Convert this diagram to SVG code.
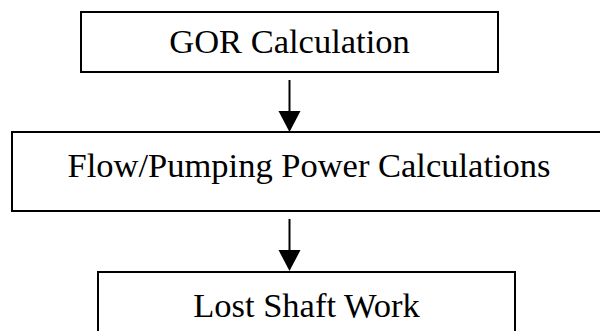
<svg xmlns="http://www.w3.org/2000/svg" width="600" height="331" viewBox="0 0 600 331">
  <style>
    .box { fill: #ffffff; stroke: #000000; stroke-width: 2; }
    .label { font-family: "Liberation Serif", "Times New Roman", serif; font-size: 34.5px; fill: #000000; text-anchor: middle; }
    .edge { stroke: #000000; stroke-width: 2; fill: none; }
    .head { fill: #000000; }
  </style>
  <rect width="600" height="331" fill="#ffffff"/>

  <g id="connectors">
    <line class="edge" x1="289.5" y1="80" x2="289.5" y2="112"/>
    <polygon class="head" points="278.5,111 300.5,111 289.5,132"/>
    <line class="edge" x1="289.5" y1="219" x2="289.5" y2="251"/>
    <polygon class="head" points="278.5,250 300.5,250 289.5,271"/>
  </g>

  <g id="node-gor">
    <rect class="box" x="81" y="12" width="417" height="60"/>
    <text class="label" x="289.5" y="53">GOR Calculation</text>
  </g>

  <g id="node-flow">
    <rect class="box" x="12" y="132" width="600" height="79"/>
    <text class="label" x="309" y="177">Flow/Pumping Power Calculations</text>
  </g>

  <g id="node-lost-work">
    <rect class="box" x="98" y="272" width="417" height="70"/>
    <text class="label" x="306.5" y="317">Lost Shaft Work</text>
  </g>
</svg>
